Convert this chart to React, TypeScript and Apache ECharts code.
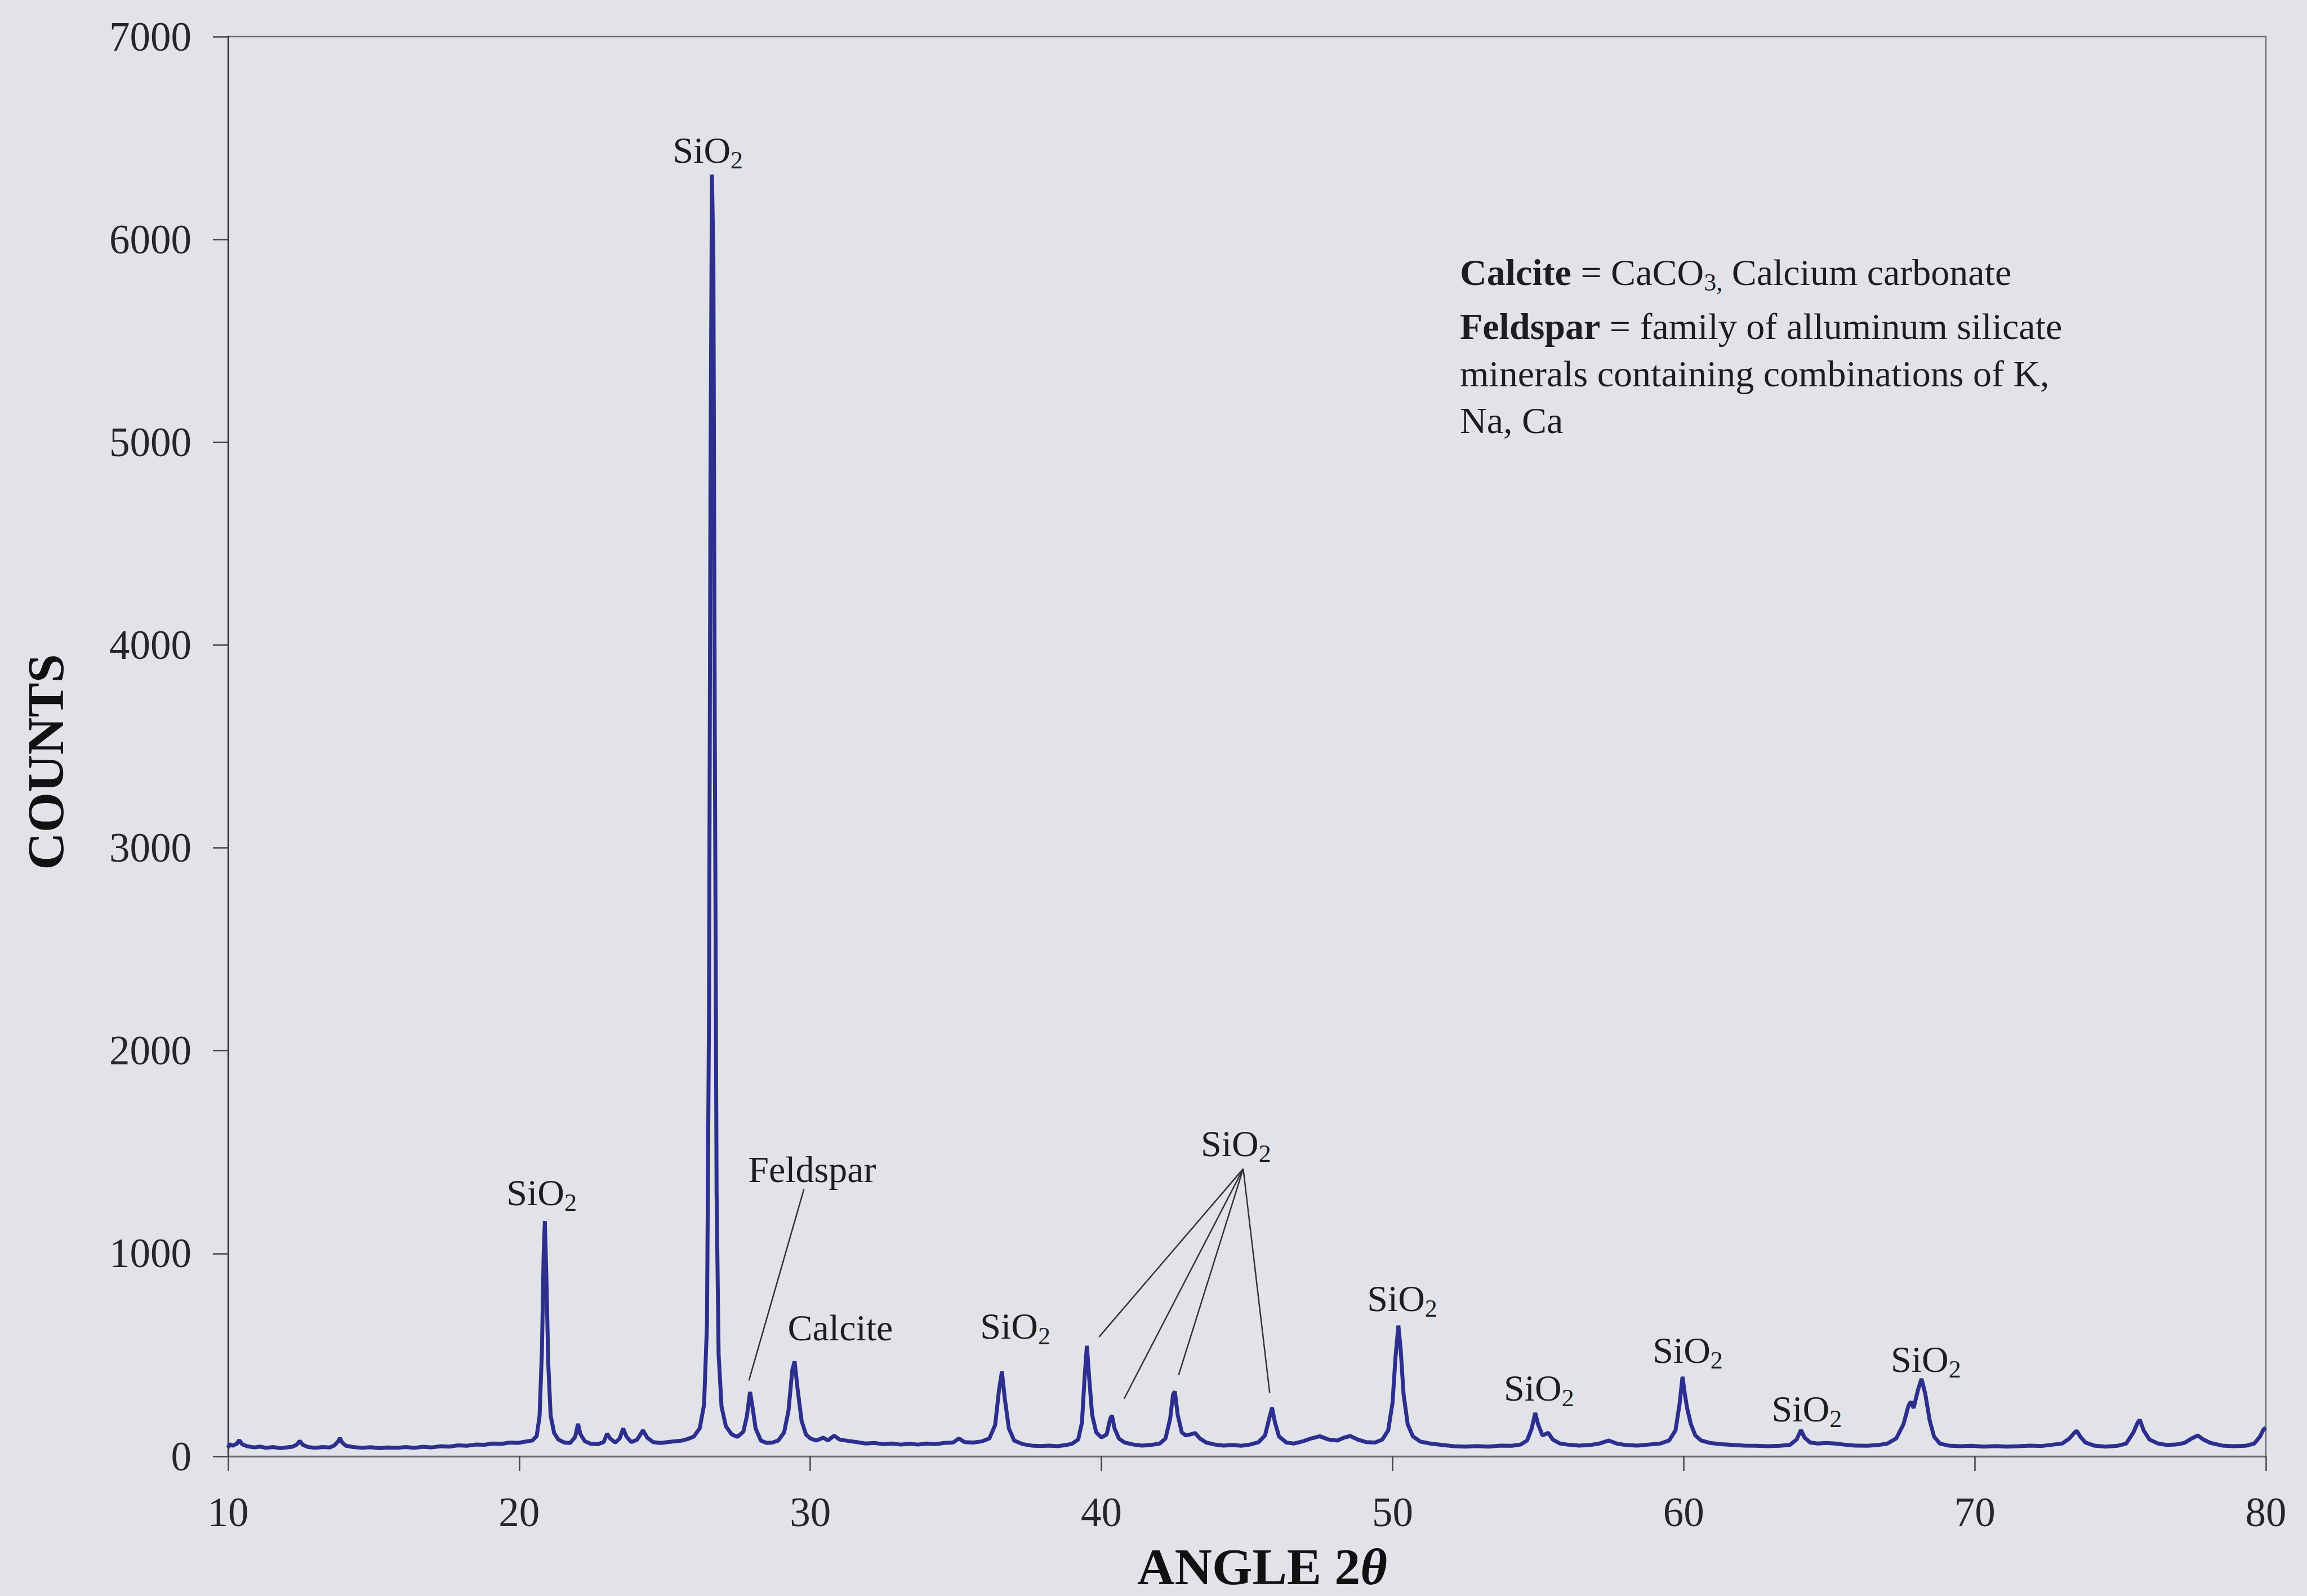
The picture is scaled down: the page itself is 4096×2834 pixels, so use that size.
import React, { useEffect, useRef } from "react";
import * as echarts from "echarts";

// ---- data ----
const angle = [
  10.0, 10.05, 10.15, 10.3, 10.38, 10.48, 10.65, 10.9, 11.1, 11.3, 11.55, 11.8, 12.0, 12.2, 12.35, 12.46, 12.56, 12.75,
  13.0, 13.25, 13.5, 13.65, 13.78, 13.84, 13.92, 14.05, 14.3, 14.6, 14.9, 15.2, 15.5, 15.8, 16.1, 16.4, 16.7, 17.0,
  17.3, 17.6, 17.9, 18.2, 18.5, 18.8, 19.1, 19.4, 19.7, 19.95, 20.2, 20.45, 20.6, 20.7, 20.78, 20.84, 20.88, 20.93,
  21.0, 21.08, 21.2, 21.35, 21.55, 21.75, 21.92, 22.02, 22.1, 22.25, 22.45, 22.7, 22.9, 23.02, 23.12, 23.3, 23.45,
  23.57, 23.68, 23.85, 24.05, 24.25, 24.4, 24.6, 24.85, 25.1, 25.35, 25.6, 25.8, 26.0, 26.2, 26.35, 26.45, 26.52,
  26.57, 26.62, 26.67, 26.72, 26.78, 26.85, 26.95, 27.1, 27.3, 27.5, 27.7, 27.82, 27.93, 28.02, 28.12, 28.3, 28.5,
  28.7, 28.9, 29.1, 29.25, 29.38, 29.46, 29.56, 29.7, 29.85, 30.0, 30.2, 30.45, 30.6, 30.82, 31.0, 31.3, 31.6, 31.9,
  32.2, 32.5, 32.8, 33.1, 33.4, 33.7, 34.0, 34.3, 34.6, 34.9, 35.1, 35.3, 35.6, 35.9, 36.15, 36.35, 36.48, 36.58,
  36.68, 36.82, 37.0, 37.3, 37.6, 37.9, 38.2, 38.5, 38.8, 39.0, 39.2, 39.33, 39.42, 39.5, 39.58, 39.68, 39.82, 40.0,
  40.18, 40.3, 40.36, 40.45, 40.6, 40.8, 41.1, 41.4, 41.7, 42.0, 42.2, 42.36, 42.46, 42.52, 42.62, 42.76, 42.9, 43.05,
  43.22, 43.38, 43.6, 43.9, 44.2, 44.5, 44.8, 45.1, 45.4, 45.62, 45.76, 45.86, 45.96, 46.1, 46.35, 46.6, 46.9, 47.2,
  47.5, 47.8, 48.1, 48.35, 48.55, 48.8, 49.1, 49.4, 49.65, 49.85, 50.0, 50.1, 50.2, 50.28, 50.38, 50.52, 50.7, 50.95,
  51.3, 51.7, 52.1, 52.5, 52.9, 53.3, 53.7, 54.1, 54.4, 54.62, 54.78, 54.9, 55.0, 55.15, 55.35, 55.5, 55.75, 56.0,
  56.4, 56.8, 57.1, 57.43, 57.7, 58.0, 58.4, 58.8, 59.2, 59.5, 59.72, 59.86, 59.96, 60.04, 60.12, 60.25, 60.4, 60.6,
  60.9, 61.3, 61.7, 62.1, 62.5, 62.9, 63.3, 63.65, 63.88, 64.03, 64.15, 64.35, 64.6, 64.9, 65.2, 65.5, 65.9, 66.3,
  66.7, 67.0, 67.3, 67.55, 67.72, 67.8, 67.9, 68.05, 68.17, 68.3, 68.45, 68.6, 68.8, 69.1, 69.5, 69.9, 70.3, 70.7,
  71.1, 71.5, 71.9, 72.3, 72.7, 73.0, 73.25, 73.42, 73.5, 73.62, 73.8, 74.1, 74.5, 74.9, 75.2, 75.45, 75.6, 75.67,
  75.8, 76.0, 76.3, 76.6, 76.9, 77.2, 77.45, 77.66, 77.85, 78.1, 78.5, 78.9, 79.3, 79.6, 79.8, 79.92, 80.0,
];
const counts = [
  42, 60, 52, 62, 80, 60, 50, 44, 48, 42, 46, 40, 44, 47, 57, 76, 57, 46,
  42, 46, 44, 54, 74, 90, 68, 52, 46, 42, 45, 40, 44, 42, 46, 42, 47, 44,
  50, 48, 54, 52, 58, 57, 63, 62, 68, 66, 72, 78, 100, 200, 520, 1000, 1160, 900,
  450, 200, 115, 82, 68, 66, 95, 160, 110, 75, 62, 60, 70, 112, 88, 68, 88,
  138, 98, 70, 82, 128, 92, 70, 66, 70, 74, 78, 86, 98, 138, 255, 650, 2200,
  4800, 6320, 5900, 3500, 1300, 500, 245, 148, 108, 96, 122, 198, 318, 238, 138, 78, 66,
  68, 78, 118, 225, 425, 468, 335, 175, 108, 88, 78, 92, 78, 102, 83, 76, 70, 63,
  66, 60, 63, 58, 62, 58, 63, 60, 66, 68, 88, 70, 68, 74, 88, 155, 325, 418,
  285, 138, 78, 60, 53, 51, 53, 50, 56, 63, 83, 165, 385, 545, 385, 205, 118, 93,
  108, 185, 202, 138, 88, 68, 58, 53, 56, 63, 88, 185, 305, 320, 205, 118, 103, 108,
  115, 88, 68, 58, 53, 56, 52, 58, 70, 103, 185, 240, 168, 98, 68, 63, 73, 88,
  99, 83, 78, 93, 100, 83, 70, 68, 83, 128, 265, 485, 645, 525, 305, 158, 98, 73,
  63, 56, 50, 48, 51, 48, 53, 52, 58, 78, 137, 214, 158, 103, 116, 83, 63, 58,
  53, 56, 63, 78, 63, 56, 53, 58, 63, 78, 128, 258, 392, 308, 237, 158, 103, 78,
  66, 60, 56, 53, 52, 50, 52, 56, 83, 130, 93, 68, 63, 66, 63, 58, 53, 52,
  56, 63, 88, 158, 248, 270, 238, 328, 382, 308, 178, 98, 63, 53, 50, 52, 48, 51,
  48, 50, 53, 51, 58, 63, 88, 116, 126, 98, 68, 53, 48, 52, 63, 118, 168, 180,
  128, 83, 63, 56, 58, 66, 88, 103, 83, 66, 53, 50, 52, 63, 98, 133, 140,
];

// peak annotations (label centre in data coordinates)
const labelText = ["SiO2", "SiO2", "Feldspar", "Calcite", "SiO2", "SiO2", "SiO2", "SiO2", "SiO2", "SiO2", "SiO2"];
const labelX = [26.48, 20.77, 30.06, 31.03, 37.04, 44.62, 50.33, 55.03, 60.14, 64.23, 68.32];
const labelY = [6440, 1300, 1415, 635, 642, 1542, 780, 337, 523, 236, 480];

// leader lines in data coordinates
const leaderFrom = [[29.78, 1317], [44.87, 1418], [44.87, 1418], [44.87, 1418], [44.87, 1418]];
const leaderTo = [[27.89, 374], [39.92, 589], [40.78, 284], [42.65, 400], [45.78, 313]];

const noteLines = [
  "{b|Calcite}{n| = CaCO}{s|3,}{n| Calcium carbonate}",
  "{b|Feldspar}{n| = family of alluminum silicate}",
  "{n|minerals containing combinations of K,}",
  "{n|Na, Ca}",
];

const FONT = "Liberation Serif";
const TEXT = "#1d1d1f";

export default function App() {
  const ref = useRef<HTMLDivElement>(null);
  useEffect(() => {
    const chart = echarts.init(ref.current!, null, { renderer: "svg" });
    const data = angle.map((a, i) => [a, counts[i]]);
    chart.setOption({
      animation: false,
      backgroundColor: "#e2e3e9",
      grid: {
        left: 405, right: 73, top: 65, bottom: 248,
        show: true, borderColor: "#707070", borderWidth: 2.5, backgroundColor: "transparent",
        outerBoundsMode: "none",
      },
      xAxis: {
        type: "value", min: 10, max: 80, interval: 10,
        axisLine: { show: true, onZero: false, lineStyle: { color: "#6a6a6e", width: 3 } },
        axisTick: { show: true, inside: false, length: 26, lineStyle: { color: "#444", width: 2.5 } },
        axisLabel: { fontFamily: FONT, fontSize: 73, lineHeight: 73, color: "#26262a", margin: 63 },
        splitLine: { show: false },
      },
      yAxis: {
        type: "value", min: 0, max: 7000, interval: 1000,
        axisLine: { show: true, onZero: false, lineStyle: { color: "#3a3a3e", width: 3 } },
        axisTick: { show: true, inside: false, length: 27, lineStyle: { color: "#444", width: 2.5 } },
        axisLabel: { fontFamily: FONT, fontSize: 73, color: "#26262a", margin: 65, formatter: (v: number) => String(v) },
        splitLine: { show: false },
      },
      series: [
        {
          type: "line", data, showSymbol: false, smooth: false,
          lineStyle: { color: "#2c2f8e", width: 7 },
          z: 3,
        },
      ],
    });

    const toPx = (x: number, y: number) => chart.convertToPixel({ gridIndex: 0 }, [x, y]) as number[];
    const base = { fontFamily: FONT, fontSize: 66, lineHeight: 80, fill: TEXT };
    const rich = {
      n: { fontFamily: FONT, fontSize: 66, lineHeight: 80, fill: TEXT },
      b: { fontFamily: FONT, fontSize: 66, lineHeight: 80, fontWeight: "bold", fill: TEXT },
      s: { fontFamily: FONT, fontSize: 44, lineHeight: 44, padding: [36, 0, 0, 0], fill: TEXT },
    };
    const graphics: any[] = [];
    labelText.forEach((t, i) => {
      const [px, py] = toPx(labelX[i], labelY[i]);
      const txt = t === "SiO2" ? "{n|SiO}{s|2}" : `{n|${t}}`;
      graphics.push({
        type: "text", x: px, y: py, z: 10,
        style: { ...base, text: txt, rich, align: "center", verticalAlign: "middle" },
      });
    });
    leaderFrom.forEach((f, i) => {
      const [x1, y1] = toPx(f[0], f[1]);
      const [x2, y2] = toPx(leaderTo[i][0], leaderTo[i][1]);
      graphics.push({
        type: "line", z: 10,
        shape: { x1, y1, x2, y2 },
        style: { stroke: "#333336", lineWidth: 2.5 },
      });
    });
    const noteY = [483, 579, 663, 746];
    noteLines.forEach((t, i) => {
      graphics.push({
        type: "text", x: 2592, y: noteY[i], z: 10,
        style: { ...base, text: t, rich, align: "left", verticalAlign: "middle" },
      });
    });
    graphics.push({
      type: "text", x: 2241, y: 2782, z: 10,
      style: {
        text: "{t|ANGLE 2}{i|θ}", align: "center", verticalAlign: "middle",
        rich: {
          t: { fontFamily: FONT, fontSize: 92, lineHeight: 78, fontWeight: "bold", fill: "#111" },
          i: { fontFamily: FONT, fontSize: 92, lineHeight: 78, fontWeight: "bold", fontStyle: "italic", fill: "#111" },
        },
      },
    });
    graphics.push({
      type: "text", x: 81, y: 1353, rotation: Math.PI / 2, z: 10,
      style: {
        text: "COUNTS", align: "center", verticalAlign: "middle",
        fontFamily: FONT, fontSize: 92, fontWeight: "bold", fill: "#111",
      },
    });
    chart.setOption({ graphic: graphics });
    return () => chart.dispose();
  }, []);
  return <div ref={ref} style={{ position: "fixed", left: 0, top: 0, width: 4096, height: 2834 }} />;
}
